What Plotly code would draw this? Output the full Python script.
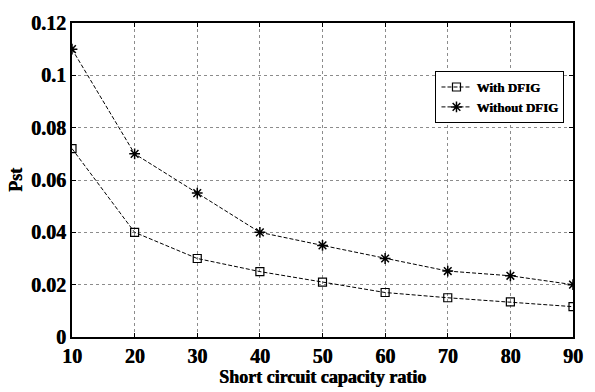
import plotly.graph_objects as go

x_ratio = [10, 20, 30, 40, 50, 60, 70, 80, 90]
with_dfig = [0.072, 0.040, 0.030, 0.025, 0.021, 0.017, 0.015, 0.0134, 0.0116]
without_dfig = [0.110, 0.070, 0.055, 0.040, 0.035, 0.030, 0.0252, 0.0234, 0.020]
y_ticks = [0, 0.02, 0.04, 0.06, 0.08, 0.1, 0.12]
y_ticktext = ["0", "0.02", "0.04", "0.06", "0.08", "0.1", "0.12"]

FONT = "Liberation Serif"
HEAVY = "0.6px 0px 0px black"

fig = go.Figure()
fig.add_trace(go.Scatter(
    x=x_ratio, y=with_dfig, name="With DFIG", mode="lines+markers",
    line=dict(color="black", width=1, dash="4px,2px"),
    marker=dict(symbol="square-open", size=8, color="black", line=dict(width=1.2)),
))
fig.add_trace(go.Scatter(
    x=x_ratio, y=without_dfig, name="Without DFIG", mode="lines+markers",
    line=dict(color="black", width=1, dash="4px,2px"),
    marker=dict(symbol="asterisk-open", size=9, color="black", line=dict(width=1.5, color="black")),
))

axis_common = dict(
    showline=True, linecolor="black", linewidth=2, mirror="ticks",
    ticks="inside", ticklen=4, tickcolor="black",
    showgrid=True, gridcolor="#8c8c8c", griddash="dot", gridwidth=1,
    zeroline=False,
    tickfont=dict(family=FONT, size=20, color="black", weight="bold", shadow=HEAVY),
)

fig.update_xaxes(
    range=[10, 90], tickvals=x_ratio,
    ticktext=[str(v) for v in x_ratio],
    title=dict(text="Short circuit capacity ratio", font=dict(family=FONT, size=18, color="black", weight="bold", shadow=HEAVY), standoff=0),
    **axis_common,
)
fig.update_yaxes(
    range=[0, 0.12], tickvals=y_ticks,
    ticktext=y_ticktext,
    title=dict(text="Pst", font=dict(family=FONT, size=18, color="black", weight="bold", shadow=HEAVY), standoff=4),
    **axis_common,
)

fig.update_layout(
    width=595, height=392,
    margin=dict(l=72, r=13, t=16, b=47),
    plot_bgcolor="white", paper_bgcolor="white",
    showlegend=True,
    legend=dict(
        x=0.983, y=0.847, xanchor="right", yanchor="top",
        bgcolor="white", bordercolor="black", borderwidth=1,
        font=dict(family=FONT, size=13, color="black", weight="bold", shadow="0.4px 0px 0px black"),
        tracegroupgap=0, itemwidth=30,
    ),
)

fig.write_html("out.html")
